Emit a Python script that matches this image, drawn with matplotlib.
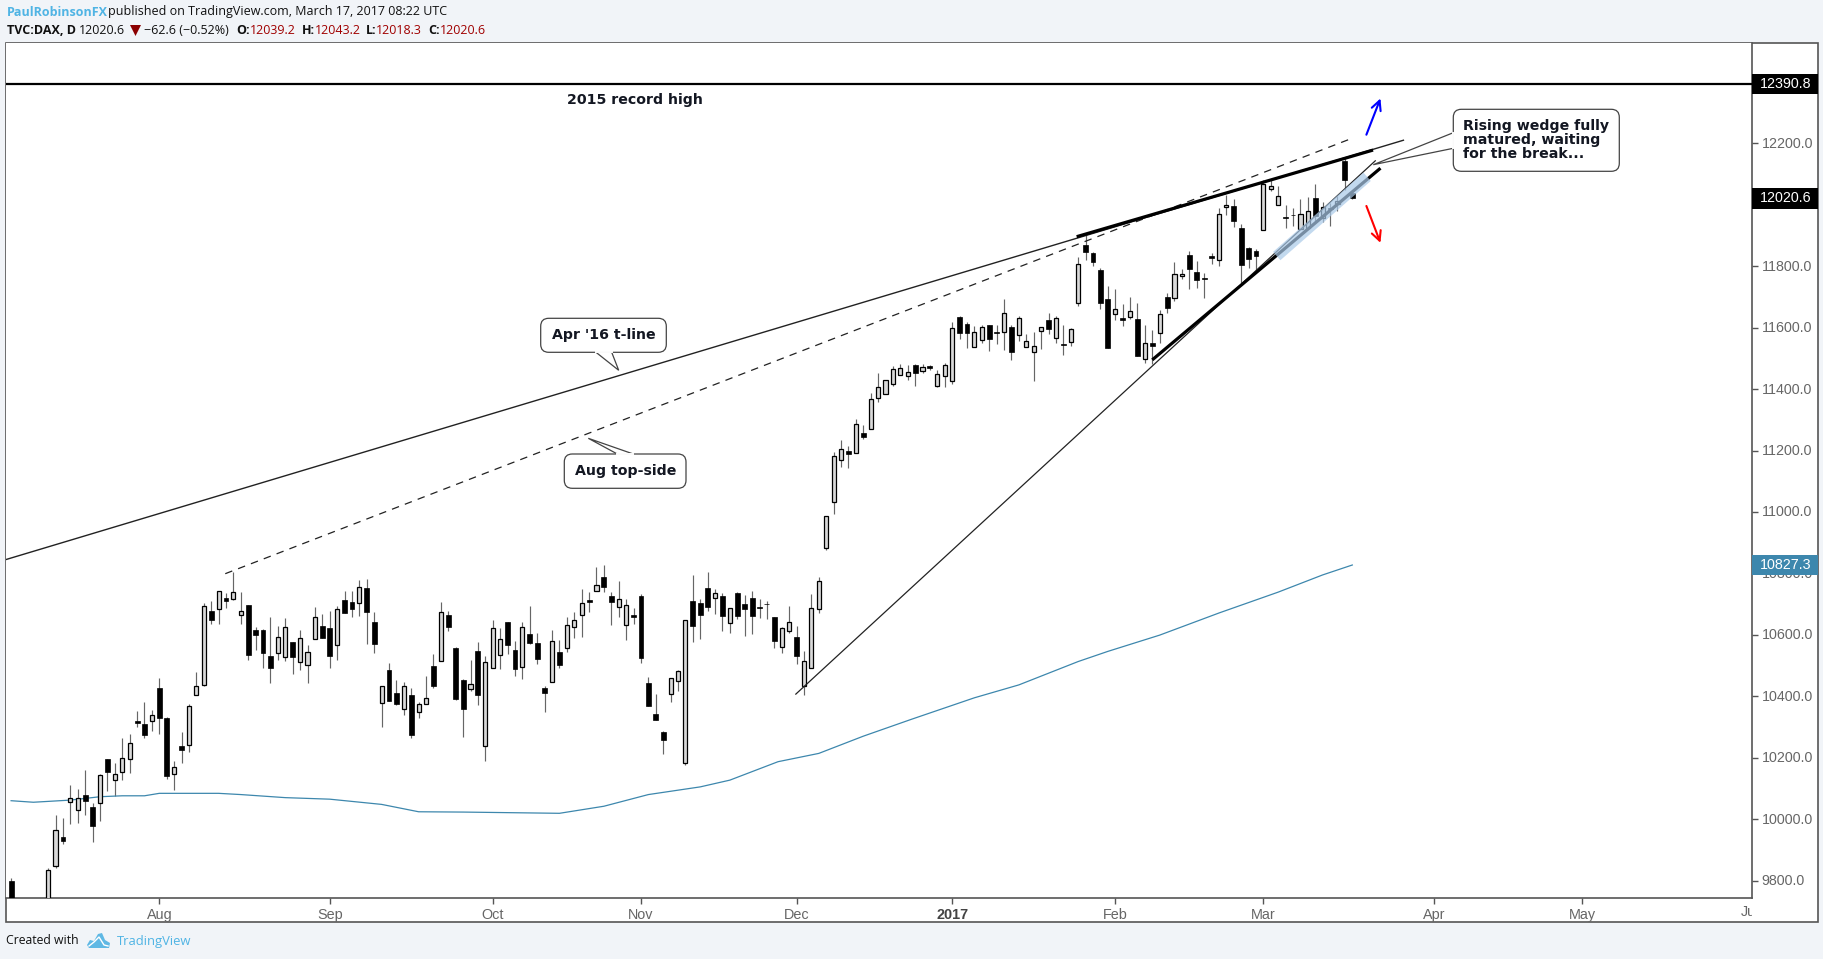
import matplotlib
matplotlib.use('Agg')
import matplotlib.pyplot as plt
from matplotlib.patches import FancyBboxPatch, Polygon, Rectangle
from matplotlib.transforms import Bbox, ScaledTranslation, TransformedBbox, blended_transform_factory

# candles, bar 0 = 1 Aug 2016, bars -19..-16 are below the visible range
bars = [-20, -15] + list(range(-14, 162))
opens = [9799, 9700, 9849, 9942, 10057, 10031, 10079, 10040, 10054, 10195, 10129, 10155, 10197, 10318, 10310, 10321,
         10427, 10329, 10148, 10238, 10242, 10405, 10438, 10678, 10685, 10719,
         10718, 10666, 10697, 10616, 10616, 10531, 10542, 10529, 10577, 10513,
         10503, 10588, 10629, 10622, 10568, 10713, 10707, 10705, 10752, 10642,
         10379, 10486, 10410, 10360, 10404, 10350, 10374, 10499, 10516, 10665,
         10557, 10453, 10425, 10547, 10239, 10493, 10535, 10642, 10551, 10496,
         10603, 10573, 10427, 10448, 10544, 10558, 10627, 10666, 10712, 10744,
         10788, 10726, 10692, 10633, 10663, 10726, 10443, 10342, 10284, 10408,
         10449, 10182, 10710, 10704, 10752, 10721, 10726, 10640, 10736, 10700,
         10720, 10689, 10700, 10658, 10561, 10613, 10592, 10434, 10493, 10685,
         10884, 11033, 11170, 11198, 11193, 11257, 11269, 11370, 11383, 11415,
         11445, 11444, 11477, 11458, 11474, 11411, 11444, 11427, 11634, 11611,
         11538, 11561, 11607, 11585, 11587, 11602, 11577, 11538, 11522, 11590,
         11625, 11567, 11547, 11554, 11679, 11868, 11842, 11788, 11693, 11644,
         11630, 11636, 11628, 11499, 11549, 11584, 11699, 11697, 11767, 11835,
         11781, 11762, 11832, 11819, 11992, 11995, 11923, 11858, 11848, 11917,
         12052, 11998, 11959, 11966, 11922, 11923, 12022, 11956, 11988, 12001,
         12142, 12039.2]
highs = [9807, 9840, 10014, 10003, 10111, 10098, 10160, 10051, 10147, 10195, 10183, 10264, 10277, 10352, 10381, 10355,
         10459, 10333, 10189, 10284, 10375, 10479, 10704, 10710, 10743, 10736,
         10804, 10739, 10697, 10625, 10619, 10658, 10629, 10655, 10577, 10616,
         10567, 10691, 10668, 10678, 10694, 10743, 10743, 10778, 10782, 10674,
         10432, 10508, 10453, 10446, 10427, 10381, 10466, 10538, 10707, 10678,
         10559, 10456, 10518, 10577, 10531, 10648, 10622, 10642, 10580, 10642,
         10694, 10606, 10433, 10616, 10583, 10658, 10674, 10749, 10739, 10821,
         10827, 10739, 10775, 10717, 10687, 10733, 10463, 10407, 10286, 10458,
         10486, 10648, 10795, 10717, 10804, 10749, 10736, 10686, 10739, 10730,
         10743, 10717, 10710, 10658, 10624, 10694, 10629, 10547, 10733, 10788,
         10987, 11195, 11234, 11215, 11303, 11283, 11387, 11452, 11428, 11475,
         11482, 11478, 11482, 11482, 11478, 11462, 11485, 11617, 11638, 11618,
         11605, 11609, 11609, 11609, 11693, 11609, 11638, 11579, 11586, 11602,
         11648, 11638, 11609, 11599, 11830, 11901, 11845, 11794, 11735, 11726,
         11677, 11700, 11680, 11609, 11592, 11657, 11713, 11814, 11791, 11849,
         11817, 11778, 11843, 11989, 12032, 12019, 11937, 11861, 11856, 12080,
         12084, 12061, 11999, 11989, 12019, 12025, 12067, 12009, 12006, 12028,
         12155, 12043.2]
lows = [9680, 9680, 9842, 9919, 9984, 9987, 10014, 9926, 9994, 10092, 10075, 10127, 10150, 10300, 10264, 10287,
        10277, 10131, 10095, 10183, 10219, 10405, 10433, 10635, 10635, 10687,
        10713, 10635, 10518, 10551, 10492, 10443, 10518, 10515, 10472, 10486,
        10443, 10588, 10590, 10492, 10518, 10671, 10658, 10661, 10570, 10541,
        10300, 10385, 10372, 10339, 10264, 10329, 10374, 10427, 10516, 10612,
        10388, 10267, 10417, 10372, 10190, 10493, 10489, 10538, 10466, 10456,
        10570, 10505, 10349, 10448, 10492, 10544, 10590, 10593, 10674, 10744,
        10739, 10632, 10658, 10583, 10635, 10508, 10368, 10323, 10212, 10381,
        10417, 10176, 10577, 10586, 10678, 10668, 10612, 10606, 10651, 10596,
        10603, 10655, 10651, 10557, 10541, 10606, 10505, 10404, 10493, 10671,
        10876, 10993, 11146, 11143, 11193, 11237, 11269, 11358, 11383, 11410,
        11445, 11430, 11410, 11453, 11462, 11407, 11407, 11417, 11563, 11534,
        11538, 11550, 11524, 11547, 11527, 11495, 11556, 11538, 11427, 11530,
        11579, 11551, 11511, 11540, 11670, 11820, 11801, 11661, 11534, 11625,
        11605, 11628, 11508, 11485, 11482, 11550, 11648, 11688, 11757, 11726,
        11729, 11696, 11807, 11800, 11967, 11927, 11739, 11794, 11784, 11917,
        12045, 11998, 11924, 11931, 11922, 11923, 11944, 11944, 11931, 11979,
        12048, 12018.3]
closes = [9700, 9833, 9964, 9929, 10068, 10068, 10059, 9978, 10143, 10153, 10146, 10198, 10247, 10313, 10274, 10338,
          10329, 10140, 10169, 10225, 10367, 10432, 10693, 10648, 10742, 10710,
          10738, 10676, 10534, 10599, 10541, 10492, 10592, 10624, 10528, 10589,
          10543, 10657, 10590, 10531, 10683, 10671, 10684, 10755, 10674, 10570,
          10432, 10385, 10375, 10432, 10274, 10374, 10393, 10433, 10673, 10625,
          10391, 10359, 10439, 10404, 10510, 10621, 10585, 10567, 10489, 10624,
          10573, 10521, 10411, 10579, 10502, 10631, 10647, 10702, 10708, 10761,
          10756, 10707, 10716, 10696, 10659, 10525, 10368, 10323, 10258, 10458,
          10481, 10647, 10629, 10665, 10691, 10735, 10661, 10686, 10661, 10684,
          10661, 10688, 10699, 10580, 10621, 10641, 10531, 10514, 10686, 10774,
          10986, 11181, 11204, 11190, 11285, 11244, 11367, 11406, 11428, 11464,
          11467, 11457, 11451, 11473, 11470, 11450, 11479, 11598, 11584, 11584,
          11585, 11601, 11564, 11584, 11647, 11522, 11630, 11555, 11539, 11601,
          11596, 11630, 11544, 11594, 11806, 11846, 11814, 11680, 11534, 11660,
          11626, 11653, 11508, 11549, 11540, 11643, 11664, 11773, 11773, 11792,
          11755, 11757, 11828, 11969, 11998, 11948, 11805, 11822, 11834, 12066,
          12060, 12027, 11958, 11965, 11969, 11978, 11964, 11992, 11987, 12011,
          12080, 12020.6]

# moving average
ma_bars = [-20, -17, -12, -8, -5, -2, 0, 6, 8, 11, 17, 23, 30, 35, 41, 54, 60, 66, 73, 77, 83.5, 89, 95,
           101.5, 110, 116, 124, 128, 135, 143, 151, 157, 161]
ma_vals = [10060, 10055, 10062, 10073, 10076, 10076, 10084, 10084, 10084, 10080, 10070, 10065, 10048, 10024,
           10023, 10019, 10042, 10080, 10105, 10127, 10187, 10214, 10270,
           10325, 10395, 10437, 10513, 10546, 10599, 10671, 10739, 10795, 10827.3]

# drawn lines, (bar, price) at both ends
apr_line = ([-20.7, 167.9], [10845, 12210])
aug_line = ([8.9, 160.5], [10799, 12212])
wedge_top = ([123.8, 163.8], [11896, 12178])
wedge_low = ([134, 164.8], [11495, 12119])
dec_line = ([85.9, 164.1], [10407, 12143])
highlight = ([150.8, 163], [11833, 12091])
up_arrow = ([162.9, 164.8], [12228, 12346])
down_arrow = ([162.9, 164.8], [11996, 11876])
record_level = 12394
last_close = 12020.6
ma_last = 10827.3

month_bars = [0, 23, 45, 65, 86, 107, 129, 149, 172, 192]
month_labels = ['Aug', 'Sep', 'Oct', 'Nov', 'Dec', '2017', 'Feb', 'Mar', 'Apr', 'May']
price_ticks = [9800, 10000, 10200, 10400, 10600, 10800, 11000, 11200, 11400, 11600, 11800, 12000, 12200]

W, H = 1824, 959
L, R, T, B = 6, 1752, 43, 898
SANS = 'Open Sans'
AX = 'Liberation Sans'
BLUE_TXT = '#4fb4e4'
RED_TXT = '#a00000'
GREY = '#666666'
HEAD = 9.0

fig = plt.figure(figsize=(W / 100, H / 100), dpi=100, facecolor='#f1f4f8')

# page layer, pixel coordinates
page = fig.add_axes([0, 0, 1, 1], zorder=0)
page.set_xlim(0, W)
page.set_ylim(H, 0)
page.axis('off')
page.add_patch(Rectangle((6, 43), 1812, 879, facecolor='white', edgecolor='#555555', lw=1.2))

ax = fig.add_axes([L / W, 1 - B / H, (R - L) / W, (B - T) / H], zorder=1)
ax.set_xlim(-20.69, 214.94)
ax.set_ylim(9743.3, 12526.5)
for s in ['top', 'left']:
    ax.spines[s].set_visible(False)
for s in ['right', 'bottom']:
    ax.spines[s].set_color('#555555')
    ax.spines[s].set_linewidth(1.2)

# wicks
ax.vlines(bars, lows, highs, color='#666666', lw=0.85, zorder=2)

# bodies
up_x = [b for b, o, c in zip(bars, opens, closes) if c >= o]
up_bot = [o for o, c in zip(opens, closes) if c >= o]
up_h = [c - o for o, c in zip(opens, closes) if c >= o]
dn_x = [b for b, o, c in zip(bars, opens, closes) if c < o]
dn_bot = [c for o, c in zip(opens, closes) if c < o]
dn_h = [o - c for o, c in zip(opens, closes) if c < o]
ax.bar(up_x, up_h, bottom=up_bot, width=0.56, facecolor='#d9d9d9', edgecolor='black', lw=0.9, zorder=3)
ax.bar(dn_x, dn_h, bottom=dn_bot, width=0.66, facecolor='black', edgecolor='black', lw=0.5, zorder=3)

ax.plot(ma_bars, ma_vals, color='#3d87ad', lw=0.9, zorder=2)

# trend lines
ax.axhline(record_level, color='black', lw=1.6, zorder=4)
ax.plot(*apr_line, color='#222222', lw=1.0, zorder=4)
ax.plot(*aug_line, color='#222222', lw=0.9, dashes=(6, 5), zorder=4)
ax.plot(*dec_line, color='#222222', lw=0.9, zorder=4)
ax.plot(*wedge_top, color='black', lw=2.3, solid_capstyle='butt', zorder=4)
ax.plot(*wedge_low, color='black', lw=2.3, solid_capstyle='butt', zorder=4)
ax.plot(*highlight, color='#a9c9e8', lw=8, alpha=0.7, solid_capstyle='butt', zorder=5)

for arrow, col in ((up_arrow, '#0000ff'), (down_arrow, '#ff0000')):
    ax.annotate('', xy=(arrow[0][1], arrow[1][1]), xytext=(arrow[0][0], arrow[1][0]),
                arrowprops=dict(arrowstyle='->', color=col, lw=1.5, mutation_scale=17,
                                shrinkA=0, shrinkB=0), zorder=6)

# axes ticks
ax.set_xticks(month_bars)
ax.set_xticklabels(month_labels, fontfamily=AX, fontsize=10.4, color=GREY)
ax.xaxis.get_ticklabels()[5].set_fontweight('bold')
ax.xaxis.get_ticklabels()[5].set_color('#444444')
ax.yaxis.tick_right()
ax.set_yticks(price_ticks)
ax.set_yticklabels(['%.1f' % p for p in price_ticks], fontfamily=AX, fontsize=10.3, color=GREY)
ax.tick_params(axis='x', length=4, width=1, color='#555555', pad=3)
ax.tick_params(axis='y', length=4, width=1, color='#555555', pad=3)
for lab in ax.yaxis.get_ticklabels():
    lab.set_transform(lab.get_transform() + ScaledTranslation(0, 0.72 / 72, fig.dpi_scale_trans))

# Jun label falls on the pane edge and gets cut
jun = ax.text(215, -14 / (B - T), 'Jun', transform=blended_transform_factory(ax.transData, ax.transAxes),
              ha='center', va='center', fontfamily=AX, fontsize=10.4, color=GREY)
jun.set_clip_box(TransformedBbox(Bbox([[0, -0.05], [1, 1]]), ax.transAxes))
jun.set_clip_on(True)

# price tags
tag_tr = blended_transform_factory(ax.transAxes, ax.transData)
for price, label, col in ((record_level, '12390.8', 'black'), (last_close, '%.1f' % last_close, 'black'),
                          (ma_last, '%.1f' % ma_last, '#3d87ad')):
    ax.add_patch(Rectangle((1.0, price - 33), 66 / (R - L), 66, transform=tag_tr, facecolor=col,
                           edgecolor='none', clip_on=False, zorder=8))
    ax.text(1.0 + 7.5 / (R - L), price, label, transform=tag_tr, color='white', fontfamily=AX,
            fontsize=10.3, va='center', ha='left', clip_on=False, zorder=9)


def callout(x0, y0, x1, y1, tail, lines, tx, ty, ha='center'):
    box = FancyBboxPatch((x0, y0), x1 - x0, y1 - y0, boxstyle='round,pad=0,rounding_size=8',
                         facecolor='white', edgecolor='#444444', lw=0.9, transform=page.transData, zorder=10)
    ax.add_patch(box)
    ax.add_patch(Polygon(tail, closed=True, facecolor='white', edgecolor='#444444', lw=0.9,
                         transform=page.transData, zorder=10))
    # hide the box edge under the tail mouth
    ax.plot([tail[0][0], tail[2][0]], [tail[0][1], tail[2][1]], color='white', lw=1.4,
            transform=page.transData, zorder=11)
    for i, line in enumerate(lines):
        ax.text(tx, ty + i * 14, line, transform=page.transData, fontfamily='DejaVu Sans', fontweight='bold',
                fontsize=10.2, color='#131722', ha=ha, va='center', zorder=12)


callout(540.7, 318.3, 666.3, 352.3, [(596, 352.3), (618.7, 370.3), (611.7, 352.3)],
        ["Apr '16 t-line"], 603.5, 335)
callout(564.3, 454, 686, 488.3, [(617.3, 454), (588.3, 438.3), (633.3, 454)],
        ['Aug top-side'], 625.3, 471)
callout(1453.3, 109.3, 1619.3, 171.3, [(1453.3, 132.7), (1373.3, 164.7), (1453.3, 148.3)],
        ['Rising wedge fully', 'matured, waiting', 'for the break...'], 1463.3, 126, ha='left')

ax.text(635, 100, '2015 record high', transform=page.transData, fontfamily='DejaVu Sans', fontweight='bold',
        fontsize=10.2, color='#131722', ha='center', va='center', zorder=12)

# header text
page.text(6.5, 12, 'PaulRobinsonFX', fontfamily=SANS, fontweight='bold', fontsize=HEAD, color=BLUE_TXT, va='center')
page.text(108, 12, 'published on TradingView.com, March 17, 2017 08:22 UTC', fontfamily=SANS, fontsize=HEAD,
          color='#111111', va='center')
page.text(7, 30, 'TVC:DAX, D', fontfamily=SANS, fontweight='bold', fontsize=HEAD, color='#111111', va='center')
page.text(79, 30, '12020.6', fontfamily=SANS, fontsize=HEAD, color='#111111', va='center')
page.add_patch(Polygon([(130, 25), (141, 25), (135.5, 36)], closed=True, facecolor='#8b0000', edgecolor='none'))
page.text(144, 30, '\u221262.6 (\u22120.52%)', fontfamily=SANS, fontsize=HEAD, color='#111111', va='center')
for lab, lx, val, vx in (('O:', 236, '12039.2', 250), ('H:', 301.6, '12043.2', 315),
                         ('L:', 365.5, '12018.3', 375.8), ('C:', 428, '12020.6', 440)):
    page.text(lx, 30, lab, fontfamily=SANS, fontweight='bold', fontsize=HEAD, color='#111111', va='center')
    page.text(vx, 30, val, fontfamily=SANS, fontsize=HEAD, color=RED_TXT, va='center')

# footer
page.text(6, 941, 'Created with', fontfamily=SANS, fontsize=8.8, color='#111111', va='center')
page.add_patch(Polygon([(87, 945), (90, 940), (94, 941), (98, 934), (102, 933), (105, 940), (110, 943), (109, 948),
                        (89, 948)], closed=True, facecolor='#5fb8e4', edgecolor='none'))
page.plot([89, 94, 99, 104, 108], [946, 942, 937, 945, 946], color='white', lw=1)
page.text(117, 941, 'TradingView', fontfamily=SANS, fontsize=9.4, color=BLUE_TXT, va='center')

fig.savefig('out.png', dpi=100, facecolor=fig.get_facecolor())
